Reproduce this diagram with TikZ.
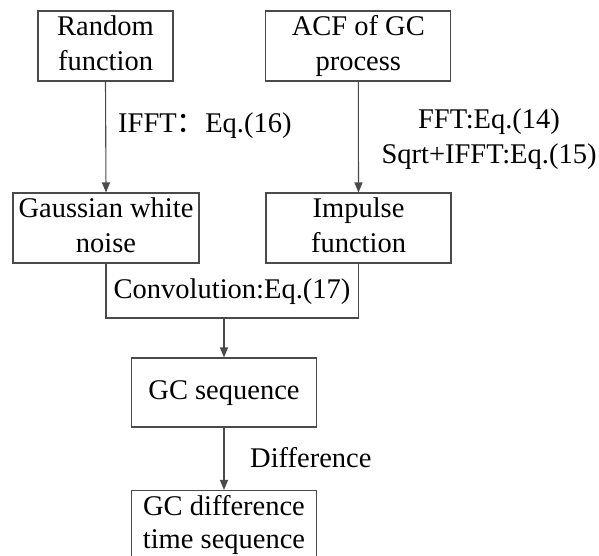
\documentclass[tikz,border=0pt]{standalone}
\usepackage{fontspec}
\setmainfont{Liberation Serif}
\newfontfamily\cjk{Noto Sans CJK SC}
\usetikzlibrary{arrows.meta}
\definecolor{linegray}{HTML}{4A4A4A}
\begin{document}
\begin{tikzpicture}[x=1pt,y=-1pt,
  txt/.style={font=\fontsize{28.5}{35}\selectfont, text=black},
  box/.style={txt, draw=linegray, line width=1.1pt, inner sep=0pt, align=center},
  lbl/.style={txt, inner sep=0pt, align=center},
  arr/.style={draw=linegray, line width=1.1pt, -{Triangle[length=10pt,width=8pt]}},
  conn/.style={draw=linegray, line width=1.1pt}]
\useasboundingbox (0,0) rectangle (599,555);
\clip (0,0) rectangle (599,555);
\fill[white] (0,0) rectangle (599,555);
% boxes
\node[box, minimum width=135pt, minimum height=68pt] (rf)  at (105.5,46) {\strut Random\\\strut function};
\node[box, minimum width=185pt, minimum height=68pt] (acf) at (358.3,46) {\strut ACF of GC\\\strut process};
\node[box, minimum width=186pt, minimum height=66pt] (gwn) at (106,228) {\strut Gaussian white\\\strut noise};
\node[box, minimum width=185pt, minimum height=66pt] (imp) at (358.5,228) {\strut Impulse\\\strut function};
\node[box, minimum width=185pt, minimum height=69pt] (gcs) at (224,392.5) {\strut GC sequence};
\node[box, minimum width=185pt, minimum height=69pt, font=\fontsize{28.5}{33}\selectfont] (gcd) at (224,525) {\strut GC difference\\\strut time sequence};
% convolution bracket
\coordinate (conv) at (224,318);
\draw[conn] (gwn.south) -- (gwn.south |- conv) -- (imp.south |- conv) -- (imp.south);
\node[lbl, anchor=base] (convl) at (232,298.3) {Convolution:Eq.(17)};
% connectors
\draw[arr] (rf.south) -- (gwn.north);
\draw[arr] (acf.south) -- (imp.north);
\draw[arr] (conv) -- (gcs.north);
\draw[arr] (gcs.south) -- (gcd.north);
% labels
\node[lbl, anchor=base west] (ifft) at (118,132) {IFFT{\cjk ：}Eq.(16)};
\node[lbl] (fft) at (489,139) {FFT:Eq.(14)\\Sqrt+IFFT:Eq.(15)};
\node[lbl, anchor=base west] (diff) at (250,467) {Difference};
\end{tikzpicture}
\end{document}
